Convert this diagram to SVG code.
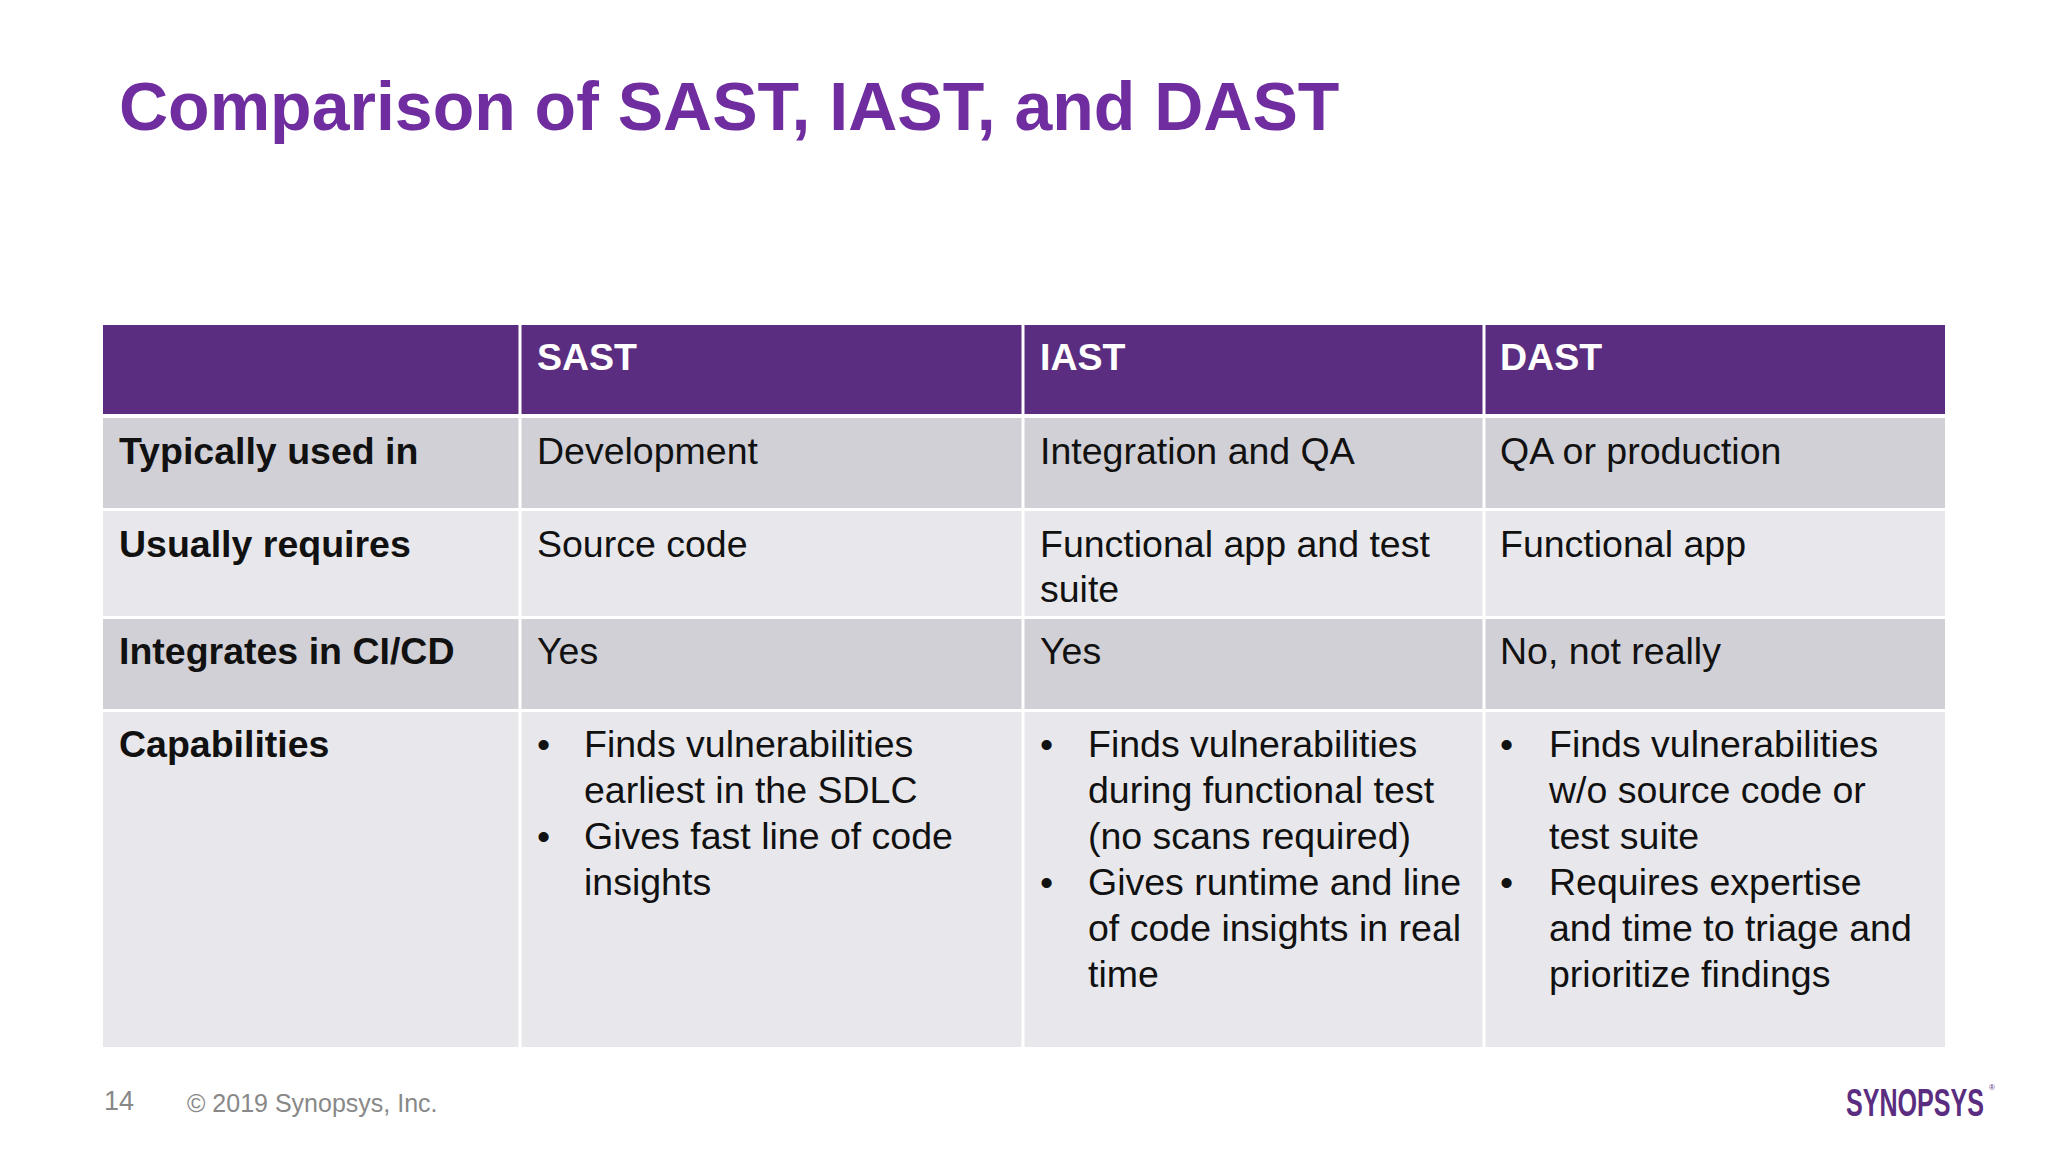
<svg xmlns="http://www.w3.org/2000/svg" width="2048" height="1152" viewBox="0 0 2048 1152">
<style>
text{font-family:"Liberation Sans",Arial,sans-serif;}
.t{font-size:37.5px;fill:#111;}
.b{font-weight:bold;}
.h{font-size:37.5px;fill:#fff;font-weight:bold;}
.dk{fill:#d1d0d6;}
.lt{fill:#e8e8ec;}
</style>
<rect width="2048" height="1152" fill="#fff"/>
<text x="119" y="130" font-size="68" font-weight="bold" fill="#6f2da0">Comparison of SAST, IAST, and DAST</text>
<g id="table">
<rect x="103" y="325" width="1842" height="89" fill="#5b2d80"/>
<rect x="103" y="418" width="1842" height="90" class="dk"/>
<rect x="103" y="511" width="1842" height="105" class="lt"/>
<rect x="103" y="619" width="1842" height="90" class="dk"/>
<rect x="103" y="712" width="1842" height="335" class="lt"/>
<g stroke="#fff" stroke-width="3">
<line x1="520" y1="325" x2="520" y2="1047"/>
<line x1="1023" y1="325" x2="1023" y2="1047"/>
<line x1="1484" y1="325" x2="1484" y2="1047"/>
</g>
</g>
<g id="header">
<text x="537" y="370" class="h">SAST</text>
<text x="1040" y="370" class="h">IAST</text>
<text x="1500" y="370" class="h">DAST</text>
</g>
<g id="row1">
<text x="119" y="464" class="t b">Typically used in</text>
<text x="537" y="464" class="t">Development</text>
<text x="1040" y="464" class="t">Integration and QA</text>
<text x="1500" y="464" class="t">QA or production</text>
</g>
<g id="row2">
<text x="119" y="557" class="t b">Usually requires</text>
<text x="537" y="557" class="t">Source code</text>
<text x="1040" y="557" class="t">Functional app and test</text>
<text x="1040" y="602" class="t">suite</text>
<text x="1500" y="557" class="t">Functional app</text>
</g>
<g id="row3">
<text x="119" y="664" class="t b">Integrates in CI/CD</text>
<text x="537" y="664" class="t">Yes</text>
<text x="1040" y="664" class="t">Yes</text>
<text x="1500" y="664" class="t">No, not really</text>
</g>
<g id="row4">
<text x="119" y="757" class="t b">Capabilities</text>
<text x="537" y="757" class="t">•</text>
<text x="584" y="757" class="t">Finds vulnerabilities</text>
<text x="584" y="803" class="t">earliest in the SDLC</text>
<text x="537" y="849" class="t">•</text>
<text x="584" y="849" class="t">Gives fast line of code</text>
<text x="584" y="895" class="t">insights</text>
<text x="1040" y="757" class="t">•</text>
<text x="1088" y="757" class="t">Finds vulnerabilities</text>
<text x="1088" y="803" class="t">during functional test</text>
<text x="1088" y="849" class="t">(no scans required)</text>
<text x="1040" y="895" class="t">•</text>
<text x="1088" y="895" class="t">Gives runtime and line</text>
<text x="1088" y="941" class="t">of code insights in real</text>
<text x="1088" y="987" class="t">time</text>
<text x="1500" y="757" class="t">•</text>
<text x="1549" y="757" class="t">Finds vulnerabilities</text>
<text x="1549" y="803" class="t">w/o source code or</text>
<text x="1549" y="849" class="t">test suite</text>
<text x="1500" y="895" class="t">•</text>
<text x="1549" y="895" class="t">Requires expertise</text>
<text x="1549" y="941" class="t">and time to triage and</text>
<text x="1549" y="987" class="t">prioritize findings</text>
</g>
<g id="footer">
<text x="104" y="1110" font-size="27" fill="#888">14</text>
<text x="187" y="1112" font-size="25" fill="#888">© 2019 Synopsys, Inc.</text>
<text x="1846" y="1116" font-size="38" font-weight="bold" fill="#5b2d80" textLength="138" lengthAdjust="spacingAndGlyphs">SYNOPSYS</text>
<text x="1989" y="1090" font-size="8" fill="#5b2d80">®</text>
</g>
</svg>
